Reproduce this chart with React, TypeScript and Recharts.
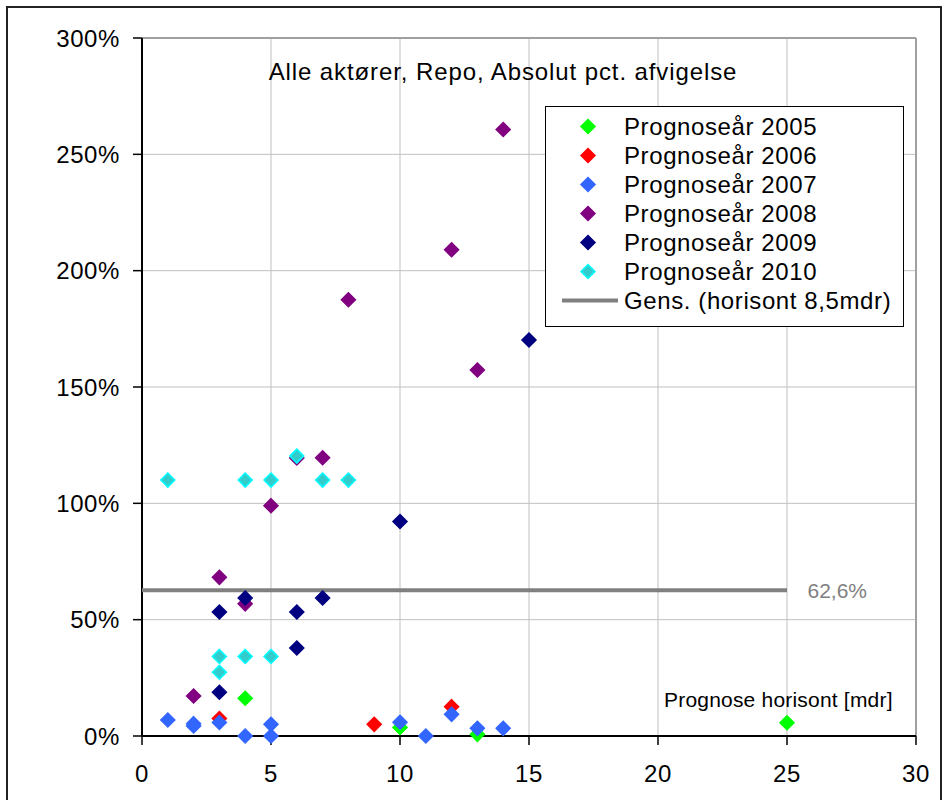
import React from 'react';
import {
  ScatterChart,
  Scatter,
  XAxis,
  YAxis,
  CartesianGrid,
  ReferenceLine,
  LabelList,
} from 'recharts';

// horizon (months) and absolute pct. deviation per forecast year
const x2005 = [4, 10, 13, 25];
const y2005 = [16.2, 3.7, 0.7, 5.7];
const x2006 = [3, 9, 12];
const y2006 = [7.5, 5, 12.6];
const x2007 = [1, 2, 2, 3, 4, 5, 5, 10, 11, 12, 13, 14];
const y2007 = [6.9, 4.3, 5.3, 5.8, 0, 5, 0, 5.9, 0, 9.3, 3.3, 3.3];
const x2008 = [2, 3, 4, 5, 6, 7, 8, 12, 13, 14];
const y2008 = [17.2, 68.2, 56.8, 99, 119.5, 119.6, 187.5, 209, 157.3, 260.7];
const x2009 = [3, 3, 4, 6, 6, 7, 10, 15];
const y2009 = [18.8, 53.3, 59.3, 53.3, 37.8, 59.3, 92.2, 170.2];
const x2010 = [1, 3, 3, 4, 4, 5, 5, 6, 7, 8];
const y2010 = [110, 34.2, 27.4, 110, 34.2, 110, 34.2, 120.3, 110, 110];

const avgX = [0, 25];
const avgValue = 62.6;
const avgLabel = '62,6%';

const xTicks = [0, 5, 10, 15, 20, 25, 30];
const yTicks = [0, 50, 100, 150, 200, 250, 300];

const FONT = '"Liberation Sans", Arial, sans-serif';

const series = [
  { name: 'Prognoseår 2005', xs: x2005, ys: y2005, fill: '#00ff00', stroke: '#00ff00' },
  { name: 'Prognoseår 2006', xs: x2006, ys: y2006, fill: '#ff0000', stroke: '#ff0000' },
  { name: 'Prognoseår 2007', xs: x2007, ys: y2007, fill: '#3366ff', stroke: '#3366ff' },
  { name: 'Prognoseår 2008', xs: x2008, ys: y2008, fill: '#800080', stroke: '#800080' },
  { name: 'Prognoseår 2009', xs: x2009, ys: y2009, fill: '#000080', stroke: '#000080' },
  { name: 'Prognoseår 2010', xs: x2010, ys: y2010, fill: '#33cccc', stroke: '#00ffff' },
];

const avgName = 'Gens. (horisont 8,5mdr)';
const avgData = avgX.map((x, i) => ({
  x,
  y: avgValue,
  label: i === avgX.length - 1 ? avgLabel : '',
}));

function diamond(fill: string, stroke: string) {
  return (props: any) => {
    const { cx, cy } = props;
    if (cx == null || cy == null) return <g />;
    const r = 7;
    return (
      <polygon
        points={`${cx},${cy - r} ${cx + r},${cy} ${cx},${cy + r} ${cx - r},${cy}`}
        fill={fill}
        stroke={stroke}
        strokeWidth={1.5}
      />
    );
  };
}

function LegendBox() {
  return (
    <div
      style={{
        position: 'absolute',
        left: 545,
        top: 106,
        width: 357,
        height: 214,
        border: '1px solid #000',
        background: '#fff',
        fontFamily: FONT,
        fontSize: 24,
        letterSpacing: 0.6,
        color: '#000',
        paddingTop: 5,
        boxSizing: 'content-box',
      }}
    >
      {series.map((s) => (
        <div key={s.name} style={{ position: 'relative', height: 29, lineHeight: '29px' }}>
          <svg width={60} height={29} style={{ position: 'absolute', left: 14, top: 0 }}>
            <polygon points="28,7.5 35,14.5 28,21.5 21,14.5" fill={s.fill} stroke={s.stroke} strokeWidth={1.5} />
          </svg>
          <span style={{ position: 'absolute', left: 78 }}>{s.name}</span>
        </div>
      ))}
      <div style={{ position: 'relative', height: 29, lineHeight: '29px' }}>
        <svg width={60} height={29} style={{ position: 'absolute', left: 14, top: 0 }}>
          <line x1={2} y1={14.5} x2={58} y2={14.5} stroke="#808080" strokeWidth={4} />
        </svg>
        <span style={{ position: 'absolute', left: 78 }}>{avgName}</span>
      </div>
    </div>
  );
}

export default function App() {
  return (
    <div style={{ position: 'absolute', left: 0, top: 0, width: 944, height: 800, background: '#fff', overflow: 'hidden' }}>
      <div
        style={{
          position: 'absolute',
          left: 6,
          top: 6,
          width: 932,
          height: 820,
          border: '2px solid #222',
        }}
      />
      <ScatterChart
        width={944}
        height={800}
        margin={{ top: 38, right: 28, left: 0, bottom: 0 }}
        style={{ position: 'absolute', left: 0, top: 0, fontFamily: FONT }}
      >
        <CartesianGrid stroke="#c0c0c0" strokeWidth={1} />
        <XAxis
          type="number"
          dataKey="x"
          domain={[0, 30]}
          ticks={xTicks}
          height={64}
          tickSize={9}
          tickMargin={20}
          axisLine={{ stroke: '#000', strokeWidth: 2 }}
          tickLine={{ stroke: '#000', strokeWidth: 1.5 }}
          tick={{ fill: '#000', fontSize: 24, fontFamily: FONT, letterSpacing: 0.6 }}
        />
        <YAxis
          type="number"
          dataKey="y"
          domain={[0, 300]}
          ticks={yTicks}
          width={142}
          tickSize={9}
          tickMargin={13}
          tickFormatter={(v: number) => `${v}%`}
          axisLine={{ stroke: '#000', strokeWidth: 2 }}
          tickLine={{ stroke: '#000', strokeWidth: 1.5 }}
          tick={{ fill: '#000', fontSize: 24, fontFamily: FONT, letterSpacing: 0.6 }}
        />
        <ReferenceLine y={300} stroke="#a0a0a0" strokeWidth={2} />
        <ReferenceLine x={30} stroke="#a0a0a0" strokeWidth={2} />
        <Scatter
          name={avgName}
          data={avgData}
          line={{ stroke: '#808080', strokeWidth: 4 }}
          shape={() => <g />}
          isAnimationActive={false}
        >
          <LabelList
            dataKey="label"
            position="right"
            offset={16}
            fill="#808080"
            fontSize={21}
            fontFamily={FONT}
          />
        </Scatter>
        {series.map((s) => (
          <Scatter
            key={s.name}
            name={s.name}
            data={s.xs.map((x, i) => ({ x, y: s.ys[i] }))}
            shape={diamond(s.fill, s.stroke)}
            isAnimationActive={false}
          />
        ))}
      </ScatterChart>
      <div
        style={{
          position: 'absolute',
          left: 0,
          width: 1006,
          top: 58,
          textAlign: 'center',
          fontFamily: FONT,
          fontSize: 24,
          letterSpacing: 0.9,
          color: '#000',
        }}
      >
        Alle aktører, Repo, Absolut pct. afvigelse
      </div>
      <div
        style={{
          position: 'absolute',
          left: 664,
          top: 688,
          fontFamily: FONT,
          fontSize: 21,
          letterSpacing: 0.2,
          color: '#000',
          whiteSpace: 'nowrap',
        }}
      >
        Prognose horisont [mdr]
      </div>
      <LegendBox />
    </div>
  );
}
